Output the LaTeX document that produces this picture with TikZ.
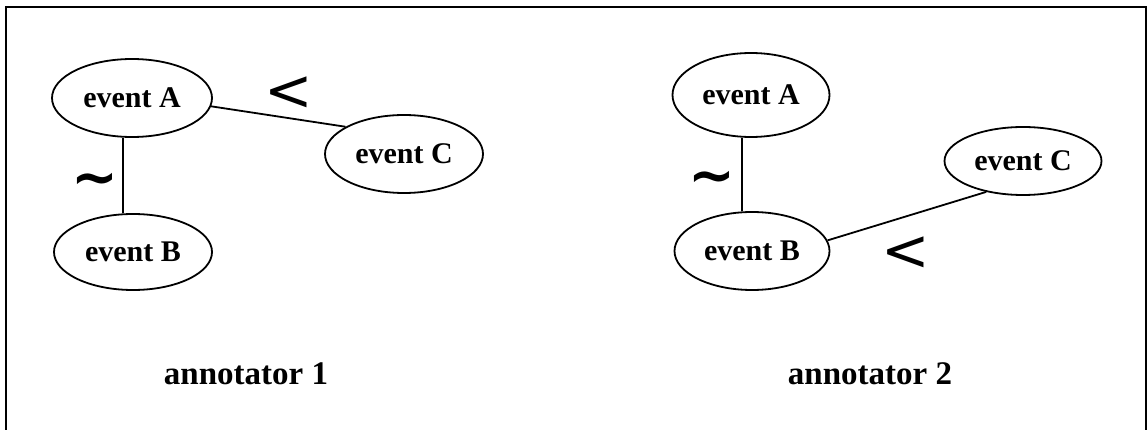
\documentclass[tikz,border=0pt]{standalone}
\usepackage{fontspec}
\setmainfont{Liberation Serif}
\newfontfamily\symfont{DejaVu Sans}
\usetikzlibrary{shapes.geometric}
\begin{document}
\begin{tikzpicture}[x=1pt,y=-1pt,
  ev/.style={draw,ellipse,line width=1.8pt,inner sep=0pt,
    font=\fontsize{30}{36}\selectfont\bfseries},
  edge/.style={line width=1.8pt},
  rel/.style={inner sep=0pt,font=\fontsize{58}{62}\selectfont\symfont},
  tl/.style={inner sep=0pt,font=\fontsize{56}{60}\selectfont\symfont\bfseries},
  annot/.style={inner sep=0pt,font=\fontsize{33}{40}\selectfont\bfseries}]
\useasboundingbox (0,0) rectangle (1148,430);
\draw[line width=2pt] (6,440) -- (6,7) -- (1146,7) -- (1146,440);
% annotator 1
\node[ev,minimum width=160pt,minimum height=78pt] (a1) at (132,98) {event A};
\node[ev,minimum width=158pt,minimum height=76pt] (b1) at (133,252) {event B};
\node[ev,minimum width=158pt,minimum height=78pt] (c1) at (404,154) {event C};
\draw[edge] ([xshift=-9pt]a1.south) -- ([xshift=-10pt]b1.north);
\draw[edge] (a1.-6) -- (c1.155);
\node[tl] (t1) at (95,185) {\char`\~};
\node[rel] (l1) at (289,94) {<};
\node[annot] (n1) at (246,374) {annotator 1};
% annotator 2
\node[ev,minimum width=157pt,minimum height=84pt] (a2) at (751,95) {event A};
\node[ev,minimum width=155pt,minimum height=78pt] (b2) at (752,251) {event B};
\node[ev,minimum width=157pt,minimum height=68pt] (c2) at (1023,161) {event C};
\draw[edge] ([xshift=-9pt]a2.south) -- ([xshift=-10pt]b2.north);
\draw[edge] (b2.8) -- (c2.220);
\node[tl] (t2) at (712,183) {\char`\~};
\node[rel] (l2) at (906,254) {<};
\node[annot] (n2) at (870,374) {annotator 2};
\end{tikzpicture}
\end{document}
